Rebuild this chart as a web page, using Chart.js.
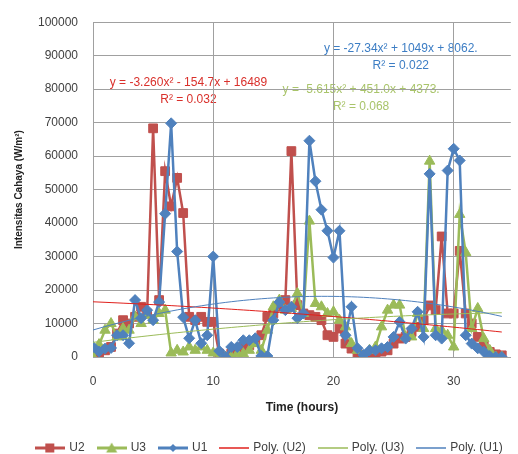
<!DOCTYPE html>
<html><head><meta charset="utf-8">
<script src="https://cdn.jsdelivr.net/npm/chart.js@4"></script>
<style>html,body{margin:0;padding:0;background:#fff;overflow:hidden}</style>
</head><body>
<canvas id="c" width="518" height="454" style="width:518px;height:454px;display:block"></canvas>
<script>
// ---- data ----
const times = [0,0.5,1,1.5,2,2.5,3,3.5,4,4.5,
  5,5.5,6,6.5,7,7.5,8,8.5,9,9.5,
  10,10.5,11,11.5,12,12.5,13,13.5,14,14.5,
  15,15.5,16,16.5,17,17.5,18,18.5,19,19.5,
  20,20.5,21,21.5,22,22.5,23,23.5,24,24.5,
  25,25.5,26,26.5,27,27.5,28,28.5,29,29.5,
  30,30.5,31,31.5,32,32.5,33,33.5,34];
const u2 = [500,500,2000,3000,7000,11000,10000,12000,15000,13000,
  68300,17000,55500,45000,53500,43000,12000,11000,12000,10500,
  10500,1000,0,1000,2000,3000,3500,4500,6500,12000,
  13000,15000,17000,61500,15500,13000,12500,12000,11000,6500,
  6000,8500,4000,2500,1000,0,0,600,1600,2000,
  4000,5500,6000,7500,9000,11000,15400,14000,36000,13000,
  13000,31700,13000,10000,6000,3500,1500,800,500];
const u3 = [0,3700,8000,10000,6000,8500,8000,12000,10000,12500,
  11000,13000,14000,1200,2000,1500,3000,2000,3000,2000,
  1200,0,0,0,1000,1000,2000,4000,2000,8000,
  15000,17000,14000,14500,19000,13000,40600,16000,15000,13000,
  13500,11000,9000,4000,2000,0,2000,3000,9000,14000,
  15500,15500,6000,6000,13000,8500,58500,8500,8000,6500,
  3000,42600,31200,8500,14500,5500,2000,0,0];
const u1 = [3000,1600,2500,2700,6500,6500,4100,17000,11600,14000,
  11000,16400,42800,69800,31500,11900,5600,11000,4100,6500,
  30000,1800,0,3000,3000,5000,5000,5600,300,300,
  11000,16400,14000,15000,11600,13000,64600,52500,44000,37700,
  29700,37700,6500,15000,2600,600,2000,2000,2600,3000,
  6000,10500,5500,8500,13500,6000,54700,6500,5500,55700,
  62200,58700,6500,4000,2600,1600,300,0,0];
// trendline coefficients [a, b, c] for y = a x^2 + b x + c (from chart equations)
const polyU2 = [-3.260, -154.7, 16489];
const polyU3 = [-5.615, 451.0, 4373];
const polyU1 = [-27.34, 1049, 8062];
const eqTexts = [
  ['y = -3.260x² - 154.7x + 16489', 'R² = 0.032'],
  ['y = -5.615x² + 451.0x + 4373.', 'R² = 0.068'],
  ['y = -27.34x² + 1049x + 8062.', 'R² = 0.022']
];
const yTickValues = [0,10000,20000,30000,40000,50000,60000,70000,80000,90000,100000];
const xTickValues = [0,10,20,30];

// ---- styles ----
const RED = '#C0504D', GREEN = '#9BBB59', BLUE = '#4F81BD';
const FONT = "'Liberation Sans', Arial, sans-serif";

function pts(ys){ return times.map((t,i)=>({x:t,y:ys[i]})); }
function trend(c){ return times.map(t=>({x:t,y:c[0]*t*t+c[1]*t+c[2]})); }

function icon(color, lw, style){
  const cv = document.createElement('canvas');
  cv.width = 30; cv.height = 12;
  const g = cv.getContext('2d');
  g.strokeStyle = color; g.lineWidth = lw;
  g.beginPath(); g.moveTo(0,6); g.lineTo(30,6); g.stroke();
  g.fillStyle = color;
  if (style === 'rect'){ g.fillRect(10,1.5,9,9); }
  else if (style === 'triangle'){ g.beginPath(); g.moveTo(15,0.5); g.lineTo(20.5,10.5); g.lineTo(9.5,10.5); g.closePath(); g.fill(); }
  else if (style === 'diamond'){ g.beginPath(); g.moveTo(15,2); g.lineTo(19,6); g.lineTo(15,10); g.lineTo(11,6); g.closePath(); g.fill(); }
  return cv;
}
const icons = [icon(RED,3,'rect'), icon(GREEN,3,'triangle'), icon(BLUE,3,'diamond'),
  icon('#E0201C',1.5), icon(GREEN,1.5), icon(BLUE,1.5)];

const labelPos = [
  {x:7.94, y:[81900,76900], color:'#D9302B'},
  {x:22.3, y:[79800,74800], color:'#A9C46A'},
  {x:25.6, y:[92000,86900], color:'#3C7DC4'}
];

const eqPlugin = {
  id:'eq',
  beforeDraw(chart){
    const {ctx, scales:{x,y}} = chart;
    ctx.save();
    ctx.font = '12px ' + FONT;
    ctx.textAlign = 'center'; ctx.textBaseline = 'middle';
    labelPos.forEach((p,i)=>{
      ctx.fillStyle = p.color;
      ctx.fillText(eqTexts[i][0], x.getPixelForValue(p.x), y.getPixelForValue(p.y[0]));
      ctx.fillText(eqTexts[i][1], x.getPixelForValue(p.x), y.getPixelForValue(p.y[1]));
    });
    ctx.restore();
  }
};
const legendShift = { id:'legendShift', afterLayout(chart){ chart.legend.left += 11; chart.legend.right += 11; } };

new Chart(document.getElementById('c'), {
  type:'line',
  data:{ datasets:[
    {label:'U2', data:pts(u2), borderColor:RED, backgroundColor:RED, borderWidth:2.5, pointStyle:'rect', pointRadius:6.2, pointBorderWidth:1, order:6},
    {label:'U3', data:pts(u3), borderColor:GREEN, backgroundColor:GREEN, borderWidth:2.5, pointStyle:'triangle', pointRadius:6, pointBorderWidth:1, order:5},
    {label:'U1', data:pts(u1), borderColor:BLUE, backgroundColor:BLUE, borderWidth:2.5, pointStyle:'rectRot', pointRadius:5.5, pointBorderWidth:1, order:4},
    {label:'Poly. (U2)', data:trend(polyU2), borderColor:'#E0201C', borderWidth:1, pointRadius:0, order:3},
    {label:'Poly. (U3)', data:trend(polyU3), borderColor:GREEN, borderWidth:1, pointRadius:0, order:2},
    {label:'Poly. (U1)', data:trend(polyU1), borderColor:BLUE, borderWidth:1, pointRadius:0, order:1}
  ]},
  options:{
    responsive:false, animation:false,
    layout:{padding:{top:20,left:0,right:0,bottom:0}},
    elements:{line:{tension:0}},
    plugins:{
      tooltip:{enabled:false},
      legend:{
        position:'bottom', maxHeight:26,
        labels:{
          usePointStyle:true, pointStyleWidth:26, padding:14,
          color:'#404040', font:{family:FONT, size:12},
          generateLabels(chart){
            return chart.data.datasets.map((d,i)=>({text:d.label, pointStyle:icons[i], datasetIndex:i, hidden:false, fontColor:'#404040', lineWidth:0, strokeStyle:'transparent', fillStyle:'transparent'}));
          }
        }
      }
    },
    scales:{
      x:{
        type:'linear', min:0, max:34.75,
        afterBuildTicks(s){ s.ticks = xTickValues.map(v=>({value:v})); },
        afterFit(s){ s.height = 71; },
        grid:{color:'#A0A0A0', drawTicks:false},
        border:{color:'#A0A0A0'},
        ticks:{padding:17, color:'#404040', font:{family:FONT,size:12}, callback:v=>String(v)},
        title:{display:true, text:'Time (hours)', color:'#222', font:{family:FONT,size:12,weight:'bold'}, padding:{top:0,bottom:13}}
      },
      y:{
        min:0, max:100000,
        afterBuildTicks(s){ s.ticks = yTickValues.map(v=>({value:v})); },
        afterFit(s){ s.width = 93; },
        grid:{color:'#A0A0A0', drawTicks:false},
        border:{color:'#A0A0A0'},
        ticks:{padding:15, color:'#404040', font:{family:FONT,size:12}, callback:v=>String(v)},
        title:{display:true, text:'Intensitas Cahaya (W/m²)', color:'#222', font:{family:FONT,size:10,weight:'bold'}, padding:{top:13,bottom:0}}
      }
    }
  },
  plugins:[eqPlugin, legendShift]
});
</script>
</body></html>
